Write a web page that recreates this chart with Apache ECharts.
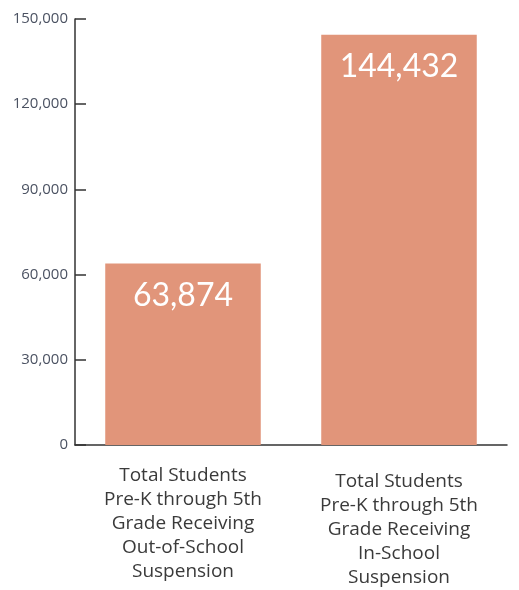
<!DOCTYPE html>
<html>
<head>
<meta charset="utf-8">
<script src="https://cdn.jsdelivr.net/npm/echarts@6/dist/echarts.min.js"></script>
<style>
html,body{margin:0;padding:0;background:#fff;}
#chart{width:519px;height:590px;}
</style>
</head>
<body>
<div id="chart"></div>
<script>
const categories = [
  "Total Students\nPre-K through 5th\nGrade Receiving\nOut-of-School\nSuspension",
  "Total Students\nPre-K through 5th\nGrade Receiving\nIn-School\nSuspension"
];
const values = [63874, 144432];
const yTicks = [0, 30000, 60000, 90000, 120000, 150000];

const chart = echarts.init(document.getElementById('chart'));
chart.setOption({
  animation: false,
  grid: { left: 75, right: 12, top: 19, bottom: 143 },
  xAxis: {
    type: 'category',
    data: categories.map((c, i) => ({
      value: c,
      textStyle: { padding: [i === 1 ? 6 : 0, 0, 0, 0] }
    })),
    axisLine: { lineStyle: { color: '#333', width: 1.5 } },
    axisTick: { inside: true, length: 10, lineStyle: { color: '#333', width: 1.5 } },
    axisLabel: {
      margin: 19,
      color: '#3a3a3a',
      fontFamily: 'Open Sans',
      fontSize: 19,
      lineHeight: 24,
      interval: 0
    }
  },
  yAxis: {
    type: 'value',
    min: yTicks[0],
    max: yTicks[yTicks.length - 1],
    interval: 30000,
    splitLine: { show: false },
    axisLine: { show: true, lineStyle: { color: '#333', width: 1.5 } },
    axisTick: { show: true, inside: true, length: 11, lineStyle: { color: '#333', width: 1.5 } },
    axisLabel: {
      margin: 7,
      color: '#4b5262',
      fontFamily: 'Open Sans',
      fontSize: 15,
      formatter: v => v.toLocaleString('en-US')
    }
  },
  series: [{
    type: 'bar',
    data: values,
    barWidth: '72%',
    itemStyle: { color: '#E1957A' },
    label: {
      show: true,
      position: 'insideTop',
      distance: 16,
      color: '#fff',
      fontFamily: 'Lato',
      fontSize: 32,
      formatter: p => p.value.toLocaleString('en-US')
    }
  }]
});
</script>
</body>
</html>
